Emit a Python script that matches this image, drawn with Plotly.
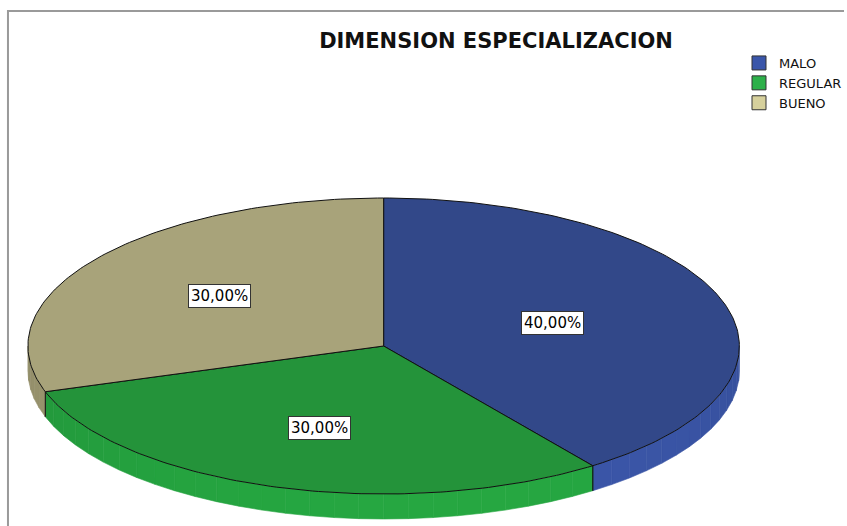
import numpy as np
import plotly.graph_objects as go

# ---- data ----
categories = ["MALO", "REGULAR", "BUENO"]
percentages = [40.0, 30.0, 30.0]
title_text = "DIMENSION ESPECIALIZACION"

# ---- styles ----
top_colors = ["#324889", "#24933a", "#a8a37a"]
side_colors = [(56, 82, 160), (36, 158, 62), (156, 151, 112)]
legend_colors = ["#3a56aa", "#2db04a", "#d6d09c"]
label_radius = [0.5, 0.58, 0.57]

W, H = 847, 526
CX, CY, RX, RY, DEPTH = 385, 346, 357, 148, 25
FONT = "DejaVu Sans, Verdana, sans-serif"


def ell(theta_deg, r=1.0, dy=0.0):
    t = np.radians(theta_deg)
    return CX + RX * r * np.sin(t), CY - RY * r * np.cos(t) + dy


def shade(rgb, theta):
    f = 1.0 + 0.10 * np.cos(np.radians(theta - 170)) - 0.04
    return "rgb(%d,%d,%d)" % tuple(min(255, int(c * f)) for c in rgb)


total = sum(percentages)
angles = np.cumsum([0] + [p / total * 360 for p in percentages])

fig = go.Figure()

# side walls (front half only)
for i, cat in enumerate(categories):
    a, b = angles[i], angles[i + 1]
    lo, hi = max(a, 90), min(b, 270)
    if lo >= hi:
        continue
    n = max(1, int(np.ceil((hi - lo) / 4)))
    edges = np.linspace(lo, hi, n + 1)
    for t0, t1 in zip(edges[:-1], edges[1:]):
        ts = np.linspace(t0, t1, 6)
        xt, yt = ell(ts)
        xb, yb = ell(ts[::-1], dy=DEPTH)
        c = shade(side_colors[i], (t0 + t1) / 2)
        fig.add_trace(go.Scatter(
            x=np.concatenate([xt, xb, xt[:1]]), y=np.concatenate([yt, yb, yt[:1]]),
            mode="lines", fill="toself", fillcolor=c,
            line=dict(width=0.6, color=c),
            hoverinfo="skip", showlegend=False))
    # vertical edge lines at slice boundaries on the side
    for t in (a, b):
        if 90 < t < 270:
            x0, y0 = ell(t)
            x1, y1 = ell(t, dy=DEPTH)
            fig.add_trace(go.Scatter(x=[x0, x1], y=[y0, y1], mode="lines",
                                     line=dict(color="#111", width=1),
                                     hoverinfo="skip", showlegend=False))

# top faces
for i, cat in enumerate(categories):
    a, b = angles[i], angles[i + 1]
    ts = np.linspace(a, b, int(b - a) + 2)
    xs, ys = ell(ts)
    fig.add_trace(go.Scatter(
        x=np.concatenate([[CX], xs, [CX]]), y=np.concatenate([[CY], ys, [CY]]),
        mode="lines", fill="toself", fillcolor=top_colors[i],
        line=dict(color="#111", width=1), hoverinfo="skip", showlegend=False))

# legend entries
for i, cat in enumerate(categories):
    fig.add_trace(go.Scatter(
        x=[None], y=[None], mode="markers", name=cat,
        marker=dict(symbol="square", size=14, color=legend_colors[i],
                    line=dict(color="#333", width=1))))

# percentage labels
for i, cat in enumerate(categories):
    mid = (angles[i] + angles[i + 1]) / 2
    lx, ly = ell(mid, r=label_radius[i])
    txt = ("%.2f%%" % percentages[i]).replace(".", ",")
    fig.add_annotation(x=lx, y=ly, text=txt, showarrow=False,
                       font=dict(family=FONT, size=15, color="#000"),
                       bgcolor="white", bordercolor="#333", borderwidth=1, borderpad=2)

# frame
fig.add_shape(type="rect", x0=8, y0=11, x1=W + 20, y1=H + 20,
              line=dict(color="#9a9a9a", width=2), layer="below")

fig.update_layout(
    width=W, height=H, autosize=False,
    margin=dict(l=0, r=0, t=0, b=0),
    paper_bgcolor="white", plot_bgcolor="white",
    xaxis=dict(range=[0, W], visible=False, fixedrange=True),
    yaxis=dict(range=[H, 0], visible=False, fixedrange=True),
    title=dict(text="<b>" + title_text + "</b>", x=496 / W, xanchor="center",
               y=1 - 41 / H, yanchor="middle", yref="container",
               font=dict(family=FONT, size=21, color="#111")),
    legend=dict(x=742 / W, y=1 - 48 / H, xanchor="left", yanchor="top",
                font=dict(family=FONT, size=13, color="#111"),
                bgcolor="rgba(0,0,0,0)", itemwidth=30, tracegroupgap=0),
    showlegend=True,
)

fig.write_html("out.html", config={"displayModeBar": False},
               post_script="document.body.style.margin='0';")
